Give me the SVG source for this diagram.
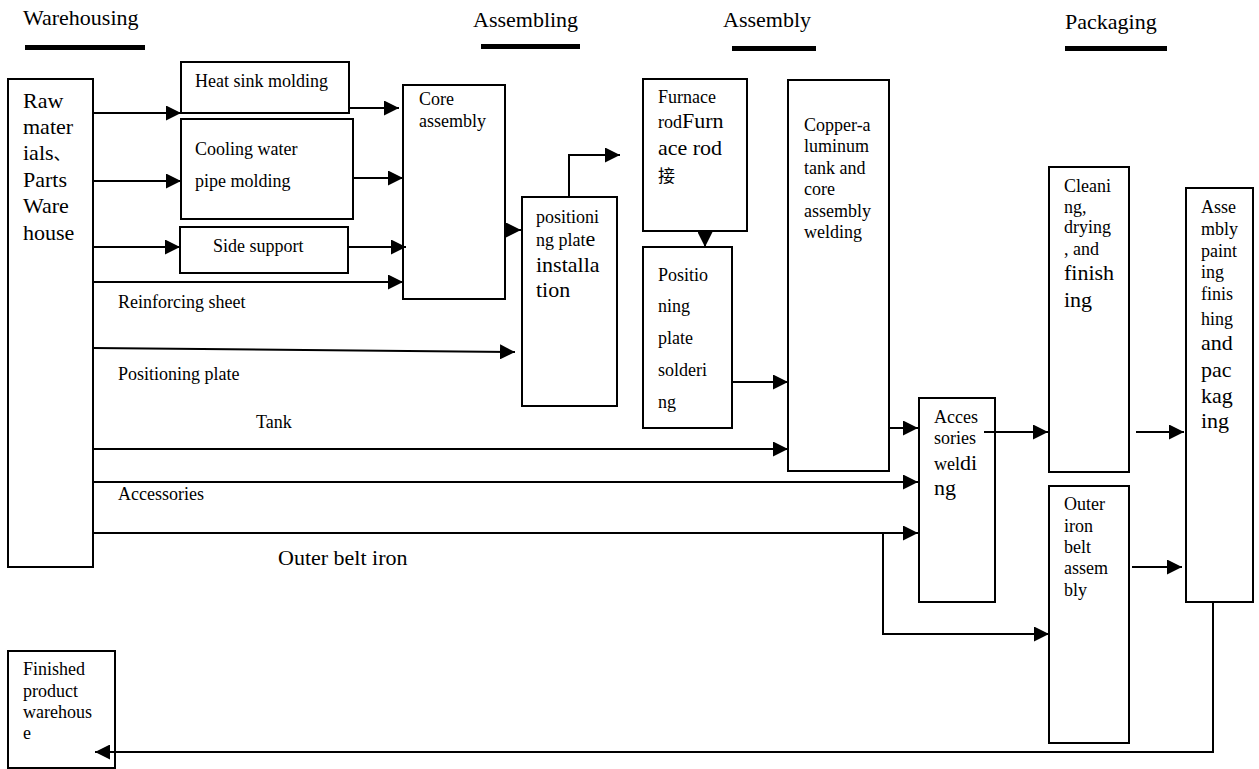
<svg xmlns="http://www.w3.org/2000/svg" width="1259" height="769" viewBox="0 0 1259 769">
<style>
text{font-family:"Liberation Serif","Times New Roman",serif;font-size:18px;fill:#000}
.cjk{font-family:"Noto Sans CJK SC",sans-serif;font-size:17px}
.h{font-size:22px}
.L{font-size:22px}
.box{fill:#fff;stroke:#000;stroke-width:2}
.bar{fill:#000}
.c{fill:none;stroke:#000;stroke-width:2}
</style>
<defs>
<marker id="ah" markerUnits="userSpaceOnUse" markerWidth="16" markerHeight="15" refX="15" refY="7.5" orient="auto">
<path d="M0,0 L15,7.5 L0,15 z" fill="#000"/>
</marker>
</defs>
<g id="headers">
<text class="h" x="23" y="25">Warehousing</text>
<rect class="bar" x="25" y="45" width="120" height="5"/>
<text class="h" x="473" y="27">Assembling</text>
<rect class="bar" x="481" y="44" width="99" height="5"/>
<text class="h" x="723" y="27">Assembly</text>
<rect class="bar" x="732" y="46" width="84" height="5"/>
<text class="h" x="1065" y="29">Packaging</text>
<rect class="bar" x="1065" y="46" width="102" height="5"/>
</g>
<g id="labels">
<text x="118" y="308">Reinforcing sheet</text>
<text x="118" y="380">Positioning plate</text>
<text x="256" y="428">Tank</text>
<text x="118" y="500">Accessories</text>
<text class="L" x="278" y="565">Outer belt iron</text>
</g>
<g id="raw">
<rect class="box" x="8" y="79" width="85" height="488"/>
<text class="L" x="23"><tspan x="23" y="108">Raw</tspan><tspan x="23" y="134">mater</tspan><tspan x="23" y="160">ials</tspan><tspan class="cjk">、</tspan><tspan x="23" y="187">Parts</tspan><tspan x="23" y="213">Ware</tspan><tspan x="23" y="240">house</tspan></text>
</g>
<g id="heatsink">
<rect class="box" x="181" y="62" width="168" height="51"/>
<text x="195" y="87">Heat sink molding</text>
</g>
<g id="cooling">
<rect class="box" x="181" y="119" width="172" height="100"/>
<text><tspan x="195" y="155">Cooling water</tspan><tspan x="195" y="187">pipe molding</tspan></text>
</g>
<g id="side">
<rect class="box" x="180" y="227" width="168" height="46"/>
<text x="213" y="252">Side support</text>
</g>
<g id="core">
<rect class="box" x="403" y="85" width="102" height="214"/>
<text><tspan x="419" y="105">Core</tspan><tspan x="419" y="127">assembly</tspan></text>
</g>
<g id="posinst">
<rect class="box" x="522" y="197" width="95" height="209"/>
<text><tspan x="536" y="223">positioni</tspan><tspan x="536" y="246">ng plat</tspan><tspan class="L">e</tspan><tspan class="L" x="536" y="272">installa</tspan><tspan class="L" x="536" y="297">tion</tspan></text>
</g>
<g id="furnace">
<rect class="box" x="643" y="79" width="104" height="152"/>
<text><tspan x="658" y="103">Furnace</tspan><tspan x="658" y="128">rod</tspan><tspan class="L">Furn</tspan><tspan class="L" x="658" y="155">ace rod</tspan><tspan class="cjk" x="658" y="182">接</tspan></text>
</g>
<g id="solder">
<rect class="box" x="643" y="247" width="89" height="181"/>
<text><tspan x="658" y="281">Positio</tspan><tspan x="658" y="312">ning</tspan><tspan x="658" y="344">plate</tspan><tspan x="658" y="376">solderi</tspan><tspan x="658" y="408">ng</tspan></text>
</g>
<g id="copper">
<rect class="box" x="788" y="80" width="101" height="391"/>
<text><tspan x="804" y="131">Copper-a</tspan><tspan x="804" y="152">luminum</tspan><tspan x="804" y="174">tank and</tspan><tspan x="804" y="195">core</tspan><tspan x="804" y="217">assembly</tspan><tspan x="804" y="238">welding</tspan></text>
</g>
<g id="accweld">
<rect class="box" x="919" y="398" width="76" height="204"/>
<text><tspan x="934" y="423">Acces</tspan><tspan x="934" y="444">sories</tspan><tspan x="934" y="470">wel</tspan><tspan class="L">di</tspan><tspan class="L" x="934" y="495">ng</tspan></text>
</g>
<g id="cleaning">
<rect class="box" x="1049" y="167" width="80" height="305"/>
<text><tspan x="1064" y="192">Cleani</tspan><tspan x="1064" y="213">ng,</tspan><tspan x="1064" y="233">drying</tspan><tspan x="1064" y="255">, and</tspan><tspan class="L" x="1064" y="280">finish</tspan><tspan class="L" x="1064" y="307">ing</tspan></text>
</g>
<g id="outerbelt">
<rect class="box" x="1049" y="486" width="80" height="257"/>
<text><tspan x="1064" y="510">Outer</tspan><tspan x="1064" y="532">iron</tspan><tspan x="1064" y="553">belt</tspan><tspan x="1064" y="574">assem</tspan><tspan x="1064" y="596">bly</tspan></text>
</g>
<g id="painting">
<rect class="box" x="1186" y="188" width="67" height="414"/>
<text><tspan x="1201" y="213">Asse</tspan><tspan x="1201" y="235">mbly</tspan><tspan x="1201" y="257">paint</tspan><tspan x="1201" y="278">ing</tspan><tspan x="1201" y="300">finis</tspan><tspan x="1201" y="325">hing</tspan><tspan class="L" x="1201" y="350">and</tspan><tspan class="L" x="1201" y="377">pac</tspan><tspan class="L" x="1201" y="403">kag</tspan><tspan class="L" x="1201" y="428">ing</tspan></text>
</g>
<g id="finished">
<rect class="box" x="8" y="651" width="107" height="117"/>
<text><tspan x="23" y="675">Finished</tspan><tspan x="23" y="697">product</tspan><tspan x="23" y="718">warehous</tspan><tspan x="23" y="739">e</tspan></text>
</g>
<g id="connectors">
<line class="c" x1="93" y1="113" x2="181" y2="113" marker-end="url(#ah)"/>
<line class="c" x1="93" y1="181" x2="181" y2="181" marker-end="url(#ah)"/>
<line class="c" x1="93" y1="247" x2="180" y2="247" marker-end="url(#ah)"/>
<line class="c" x1="93" y1="282" x2="403" y2="282" marker-end="url(#ah)"/>
<line class="c" x1="349" y1="108" x2="399" y2="108" marker-end="url(#ah)"/>
<line class="c" x1="353" y1="178" x2="403" y2="178" marker-end="url(#ah)"/>
<line class="c" x1="347" y1="247" x2="406" y2="247" marker-end="url(#ah)"/>
<line class="c" x1="505" y1="230" x2="521" y2="230" marker-end="url(#ah)"/>
<path class="c" d="M93,348 L515,352" marker-end="url(#ah)"/>
<polyline class="c" points="569,197 569,155 620,155" marker-end="url(#ah)"/>
<line class="c" x1="705" y1="231" x2="705" y2="247" marker-end="url(#ah)"/>
<line class="c" x1="732" y1="382" x2="788" y2="382" marker-end="url(#ah)"/>
<line class="c" x1="93" y1="449" x2="788" y2="449" marker-end="url(#ah)"/>
<line class="c" x1="889" y1="428" x2="918" y2="428" marker-end="url(#ah)"/>
<line class="c" x1="93" y1="482" x2="918" y2="482" marker-end="url(#ah)"/>
<line class="c" x1="93" y1="533" x2="918" y2="533" marker-end="url(#ah)"/>
<polyline class="c" points="883,533 883,634 1049,634" marker-end="url(#ah)"/>
<line class="c" x1="984" y1="432" x2="1048" y2="432" marker-end="url(#ah)"/>
<line class="c" x1="1136" y1="432" x2="1184" y2="432" marker-end="url(#ah)"/>
<line class="c" x1="1132" y1="567" x2="1182" y2="567" marker-end="url(#ah)"/>
<polyline class="c" points="1213,602 1213,752 95,752" marker-end="url(#ah)"/>
</g>
</svg>
